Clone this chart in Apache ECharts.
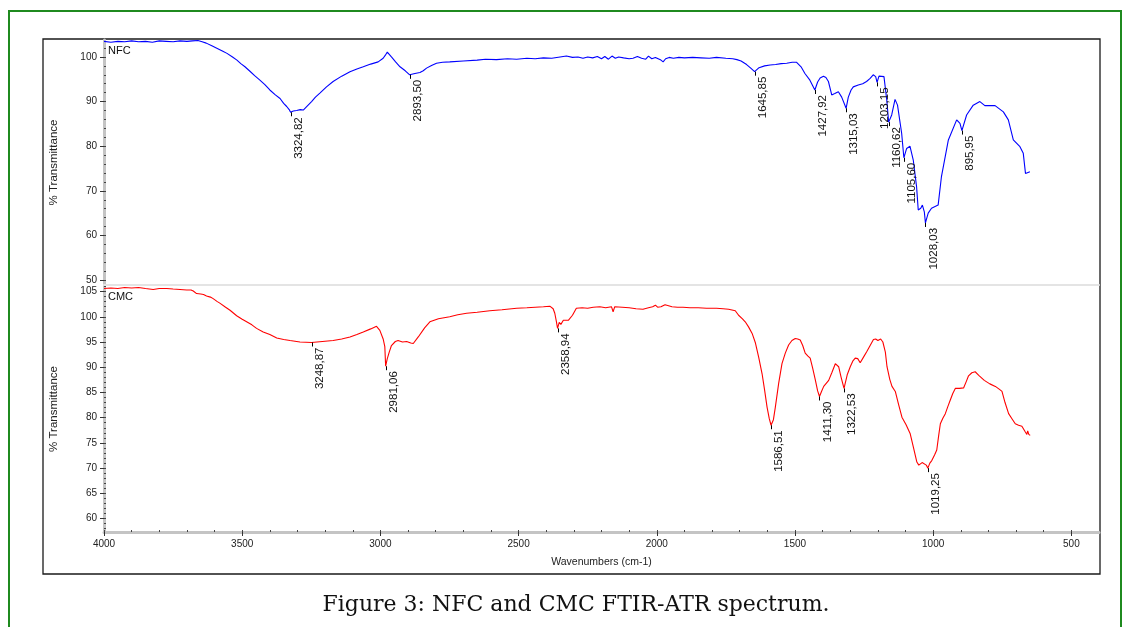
<!DOCTYPE html>
<html>
<head>
<meta charset="utf-8">
<title>NFC and CMC FTIR-ATR spectrum</title>
<script src="https://cdn.jsdelivr.net/npm/echarts@6/dist/echarts.min.js"></script>
<style>
  html, body { margin: 0; padding: 0; background: #fff; }
  #chart { width: 1125px; height: 627px; }
</style>
</head>
<body>
<div id="chart"></div>
<script>
// NFC spectrum, wavenumber (cm-1) -> % transmittance
var nfcWave = [4000, 3975, 3950, 3925, 3900, 3875, 3850, 3825, 3800, 3775, 3750, 3725, 3700, 3680, 3660, 3645, 3630, 3610, 3590, 3570,
  3555, 3535, 3519, 3505, 3490, 3472, 3455, 3436, 3418, 3400, 3380, 3363, 3350, 3339, 3330, 3325, 3315, 3303, 3290, 3279,
  3265, 3249, 3235, 3219, 3195, 3171, 3140, 3110, 3085, 3062, 3035, 3008, 2990, 2982, 2975, 2968, 2960, 2945, 2929, 2910,
  2894, 2875, 2857, 2845, 2833, 2815, 2797, 2775, 2749, 2700, 2650, 2620, 2580, 2540, 2507, 2470, 2440, 2410, 2380, 2350,
  2327, 2305, 2285, 2267, 2250, 2232, 2215, 2200, 2188, 2175, 2162, 2150, 2138, 2120, 2100, 2086, 2070, 2055, 2040, 2030,
  2018, 2005, 1995, 1985, 1977, 1968, 1955, 1940, 1920, 1900, 1870, 1840, 1810, 1784, 1750, 1725, 1710, 1695, 1675, 1660,
  1646, 1630, 1610, 1590, 1570, 1550, 1530, 1510, 1494, 1478, 1464, 1446, 1428, 1418, 1409, 1397, 1388, 1379, 1367, 1356,
  1349, 1343, 1331, 1315, 1307, 1297, 1289, 1271, 1255, 1241, 1228, 1217, 1208, 1203, 1196, 1189, 1178, 1168, 1161, 1150,
  1138, 1129, 1114, 1106, 1096, 1084, 1072, 1060, 1054, 1045, 1039, 1032, 1028, 1018, 1006, 982, 970, 945, 915, 903,
  896, 879, 855, 831, 813, 776, 746, 728, 710, 686, 674, 666, 660, 650];
var nfcT = [103.5, 103.3, 103.5, 103.4, 103.6, 103.4, 103.5, 103.3, 103.6, 103.5, 103.4, 103.6, 103.5, 103.6, 103.7, 103.4, 103.1, 102.5, 101.9, 101.3,
  100.8, 100.0, 99.3, 98.5, 97.8, 96.8, 95.8, 94.8, 93.8, 92.6, 91.5, 90.7, 89.6, 88.9, 88.2, 87.6, 87.9, 88.0, 88.2, 88.1,
  89.0, 90.0, 91.0, 91.9, 93.3, 94.5, 95.7, 96.7, 97.3, 97.8, 98.4, 98.9, 99.7, 100.4, 101.1, 100.6, 100.0, 98.9, 97.8, 96.9,
  96.0, 96.3, 96.5, 96.9, 97.5, 98.1, 98.6, 98.8, 98.9, 99.1, 99.3, 99.5, 99.4, 99.6, 99.5, 99.7, 99.6, 99.8, 99.7, 100.0,
  100.2, 99.9, 100.0, 99.7, 100.0, 99.8, 100.1, 99.6, 100.1, 99.5, 100.2, 99.7, 100.0, 99.8, 99.6, 99.7, 100.1, 99.7, 99.5, 100.2,
  99.6, 99.9, 99.6, 99.3, 98.9, 99.6, 99.9, 99.7, 99.9, 99.8, 99.9, 99.8, 99.7, 99.9, 99.7, 99.6, 99.4, 99.1, 98.3, 97.5,
  96.7, 97.6, 98.0, 98.2, 98.3, 98.5, 98.6, 98.8, 98.8, 97.8, 96.3, 94.8, 92.6, 94.4, 95.3, 95.7, 95.4, 94.5, 91.5, 91.8,
  92.0, 92.2, 91.0, 88.5, 91.0, 92.6, 93.3, 93.7, 94.0, 94.5, 95.2, 96.0, 95.6, 94.3, 95.7, 96.0, 95.6, 90.4, 85.4, 87.0,
  90.5, 89.2, 82.9, 77.4, 79.5, 80.0, 76.9, 70.9, 65.7, 66.1, 66.8, 65.3, 62.8, 65.0, 66.1, 66.8, 73.2, 81.4, 85.9, 85.1,
  83.5, 87.0, 89.2, 90.0, 89.1, 89.1, 87.7, 85.9, 81.4, 79.9, 78.4, 73.9, 73.5, 74.3];

// CMC spectrum
var cmcWave = [4000, 3975, 3950, 3925, 3900, 3875, 3850, 3822, 3800, 3773, 3750, 3725, 3701, 3685, 3677, 3665, 3650, 3640, 3629, 3615,
  3605, 3590, 3581, 3560, 3544, 3520, 3500, 3484, 3465, 3448, 3424, 3400, 3375, 3350, 3327, 3291, 3249, 3210, 3171, 3140,
  3110, 3085, 3062, 3035, 3014, 3002, 2990, 2984, 2981, 2975, 2968, 2960, 2946, 2936, 2920, 2905, 2890, 2881, 2863, 2840,
  2821, 2790, 2749, 2720, 2688, 2650, 2604, 2560, 2507, 2470, 2440, 2410, 2387, 2375, 2369, 2363, 2359, 2353, 2347, 2338,
  2320, 2305, 2291, 2270, 2250, 2230, 2206, 2185, 2164, 2158, 2152, 2146, 2125, 2100, 2075, 2050, 2030, 2015, 2005, 1997,
  1985, 1970, 1965, 1945, 1925, 1905, 1880, 1850, 1820, 1784, 1760, 1740, 1716, 1704, 1690, 1680, 1668, 1655, 1643, 1631,
  1619, 1610, 1601, 1593, 1586.5, 1578, 1571, 1559, 1547, 1535, 1523, 1511, 1499, 1490, 1481, 1472, 1463, 1453, 1445, 1436,
  1426, 1418, 1411.3, 1404, 1396, 1387, 1378, 1366, 1354, 1342, 1333, 1322.5, 1311, 1300, 1291, 1282, 1273, 1264, 1252, 1240,
  1228, 1216, 1208, 1200, 1190, 1182, 1173, 1167, 1157, 1149, 1137, 1125, 1113, 1098, 1083, 1071, 1059, 1052, 1047, 1040,
  1035, 1025, 1019.25, 1012, 1005, 995, 987, 980, 974, 965, 956, 947, 938, 929, 920, 905, 890, 880, 872, 860,
  848, 835, 815, 795, 775, 760, 751, 740, 727, 715, 703, 691, 679, 667, 661, 658, 654, 649];
var cmcT = [105.6, 105.7, 105.6, 105.8, 105.7, 105.8, 105.6, 105.4, 105.6, 105.6, 105.5, 105.4, 105.3, 105.3, 105.1, 104.6, 104.5, 104.4, 104.1, 103.9,
  103.6, 103.0, 102.7, 101.9, 101.3, 100.2, 99.5, 99.0, 98.4, 97.7, 97.0, 96.5, 95.8, 95.5, 95.3, 95.0, 94.9, 95.1, 95.3, 95.6,
  96.0, 96.5, 97.0, 97.6, 98.1, 97.3, 95.6, 94.1, 90.2, 91.7, 93.0, 94.3, 95.1, 95.3, 95.0, 95.1, 94.8, 94.7, 96.0, 97.8,
  99.0, 99.6, 100.0, 100.4, 100.7, 100.9, 101.2, 101.4, 101.7, 101.8, 101.9, 102.0, 102.1, 101.6, 100.7, 99.0, 97.7, 98.9, 98.5, 99.3,
  99.3, 100.3, 101.7, 101.8, 101.7, 101.9, 102.0, 101.8, 102.0, 101.0, 102.0, 102.1, 101.9, 101.8, 101.6, 101.5, 101.8, 102.0, 102.3, 101.9,
  102.0, 102.4, 102.1, 102.0, 101.9, 101.9, 101.8, 101.8, 101.7, 101.7, 101.6, 101.5, 101.2, 100.3, 99.6, 99.0, 98.0, 96.7, 94.8, 91.9,
  88.7, 85.5, 82.1, 79.8, 78.5, 79.6, 82.1, 86.8, 90.7, 92.8, 94.4, 95.3, 95.7, 95.6, 95.4, 94.3, 92.8, 92.2, 91.8, 89.8,
  87.4, 85.3, 84.2, 85.2, 86.2, 86.8, 87.4, 89.0, 90.7, 90.1, 88.0, 85.8, 88.5, 90.1, 91.2, 91.8, 91.7, 90.9, 92.0, 93.1,
  94.3, 95.5, 95.6, 95.3, 95.6, 95.0, 93.0, 90.1, 87.6, 86.2, 85.2, 82.6, 80.1, 78.6, 76.8, 74.0, 71.2, 70.6, 70.9, 71.1,
  70.8, 70.6, 70.0, 71.0, 71.5, 72.6, 73.6, 76.5, 78.8, 79.9, 80.8, 82.2, 83.5, 84.8, 85.8, 85.8, 85.9, 87.2, 88.3, 88.9,
  89.1, 88.4, 87.4, 86.7, 86.2, 85.6, 85.2, 83.0, 80.8, 79.8, 78.8, 78.5, 78.3, 77.2, 76.7, 77.4, 76.7, 76.5];

// labelled peaks
var nfcPeakWave = [3324.82, 2893.50, 1645.85, 1427.92, 1315.03, 1203.15, 1160.62, 1105.60, 1028.03, 895.95];
var nfcPeakT = [87.6, 96.0, 96.7, 92.6, 88.5, 94.3, 85.4, 77.4, 62.8, 83.5];
var cmcPeakWave = [3248.87, 2981.06, 2358.94, 1586.51, 1411.30, 1322.53, 1019.25];
var cmcPeakT = [94.9, 90.2, 97.7, 78.5, 84.2, 85.8, 70.0];

// tick labels
var xLabels = [4000, 3500, 3000, 2500, 2000, 1500, 1000, 500];
var nfcYLabels = [50, 60, 70, 80, 90, 100];
var cmcYLabels = [60, 65, 70, 75, 80, 85, 90, 95, 100, 105];

var xMinor = [];
for (var w = 500; w <= 4000; w += 100) xMinor.push(w);
var nfcMinor = [];
for (var a = 50; a <= 102; a += 2) nfcMinor.push(a);
var cmcMinor = [];
for (var b = 58; b <= 106; b++) cmcMinor.push(b);

function pairs(xs, ys) {
  return xs.map(function (x, i) { return [x, ys[i]]; });
}
function plain(v) { return String(v); } // no thousands separator

var FONT = '"Liberation Sans", Arial, sans-serif';
var AXIS_GRAY = '#c4c4c4';

function xAxisMain(grid, show) {
  return {
    type: 'value', gridIndex: grid, position: 'bottom', min: 400, max: 4000, inverse: true,
    axisLine: { show: true, onZero: false, lineStyle: show ? { color: AXIS_GRAY, width: 3 } : { color: '#e4e4e4', width: 2 } },
    axisTick: { show: show, customValues: xLabels, length: 4, lineStyle: { color: '#333' } },
    axisLabel: { show: show, customValues: xLabels, formatter: plain, fontSize: 10, color: '#222', fontFamily: FONT, margin: 7 },
    splitLine: { show: false },
    name: show ? 'Wavenumbers (cm-1)' : '',
    nameLocation: 'middle', nameGap: 25,
    nameTextStyle: { fontSize: 10.5, color: '#222', fontFamily: FONT }
  };
}
function xAxisMinor(grid) {
  return {
    type: 'value', gridIndex: grid, position: 'bottom', min: 400, max: 4000, inverse: true,
    axisLine: { show: false, onZero: false },
    axisTick: { show: true, inside: true, customValues: xMinor, length: 2, lineStyle: { color: '#444' } },
    axisLabel: { show: false }, splitLine: { show: false }
  };
}
function yAxisMain(grid, min, max, labels) {
  return {
    type: 'value', gridIndex: grid, position: 'left', min: min, max: max,
    axisLine: { show: true, onZero: false, lineStyle: { color: AXIS_GRAY, width: 3 } },
    axisTick: { show: true, customValues: labels, length: 4, lineStyle: { color: '#333' } },
    axisLabel: { customValues: labels, formatter: plain, fontSize: 10, color: '#222', fontFamily: FONT, margin: 7 },
    splitLine: { show: false },
    name: '% Transmittance', nameLocation: 'middle', nameRotate: 90, nameGap: 44,
    nameTextStyle: { fontSize: 11.5, color: '#222', fontFamily: FONT }
  };
}
function yAxisMinor(grid, min, max, ticks) {
  return {
    type: 'value', gridIndex: grid, position: 'left', min: min, max: max,
    axisLine: { show: false, onZero: false },
    axisTick: { show: true, inside: true, customValues: ticks, length: 2, lineStyle: { color: '#444' } },
    axisLabel: { show: false }, splitLine: { show: false }
  };
}

// tick mark + rotated wavenumber below each labelled peak
function peakItem(params, api) {
  var p = api.coord([api.value(0), api.value(1)]);
  var txt = api.value(0).toFixed(2).replace('.', ',');
  var x = Math.round(p[0]) + 0.5;
  return {
    type: 'group',
    children: [
      { type: 'line', shape: { x1: x, y1: p[1], x2: x, y2: p[1] + 4 }, style: { stroke: '#000', lineWidth: 1 } },
      {
        type: 'text', x: p[0] + 8, y: p[1] + 5, rotation: Math.PI / 2,
        style: { text: txt, align: 'right', verticalAlign: 'middle', fontSize: 11.5, fontFamily: FONT, fill: '#111' }
      }
    ]
  };
}

var chart = echarts.init(document.getElementById('chart'));
chart.setOption({
  animation: false,
  backgroundColor: '#fff',
  grid: [
    { left: 104, right: 26, top: 40, height: 245 },
    { left: 104, right: 26, top: 286, height: 246 }
  ],
  xAxis: [xAxisMain(0, false), xAxisMain(1, true), xAxisMinor(1)],
  yAxis: [
    yAxisMain(0, 48.9, 103.8, nfcYLabels),
    yAxisMinor(0, 48.9, 103.8, nfcMinor),
    yAxisMain(1, 57.34, 106.1, cmcYLabels),
    yAxisMinor(1, 57.34, 106.1, cmcMinor)
  ],
  series: [
    {
      name: 'NFC', type: 'line', xAxisIndex: 0, yAxisIndex: 0, showSymbol: false, symbol: 'none',
      lineStyle: { color: '#0000ff', width: 1.1 }, data: pairs(nfcWave, nfcT)
    },
    {
      name: 'CMC', type: 'line', xAxisIndex: 1, yAxisIndex: 2, showSymbol: false, symbol: 'none',
      lineStyle: { color: '#ff0000', width: 1.1 }, data: pairs(cmcWave, cmcT)
    },
    {
      type: 'custom', xAxisIndex: 0, yAxisIndex: 0, silent: true, z: 5,
      renderItem: peakItem, data: pairs(nfcPeakWave, nfcPeakT)
    },
    {
      type: 'custom', xAxisIndex: 1, yAxisIndex: 2, silent: true, z: 5,
      renderItem: peakItem, data: pairs(cmcPeakWave, cmcPeakT)
    }
  ],
  graphic: [
    { type: 'rect', shape: { x: 9, y: 11, width: 1112, height: 640 }, style: { fill: null, stroke: '#1f8a1f', lineWidth: 2 }, silent: true },
    { type: 'rect', shape: { x: 43, y: 39, width: 1057, height: 535 }, style: { fill: null, stroke: '#1a1a1a', lineWidth: 1.3 }, silent: true },
    { type: 'text', x: 108, y: 51, style: { text: 'NFC', fontSize: 11, fontFamily: FONT, fill: '#111', verticalAlign: 'middle' } },
    { type: 'text', x: 108, y: 297, style: { text: 'CMC', fontSize: 11, fontFamily: FONT, fill: '#111', verticalAlign: 'middle' } },
    {
      type: 'text', x: 576, y: 605,
      style: { text: 'Figure 3: NFC and CMC FTIR-ATR spectrum.', fontSize: 22, fontFamily: '"DejaVu Serif", serif', fill: '#111', align: 'center', verticalAlign: 'middle' }
    }
  ]
});
</script>
</body>
</html>
